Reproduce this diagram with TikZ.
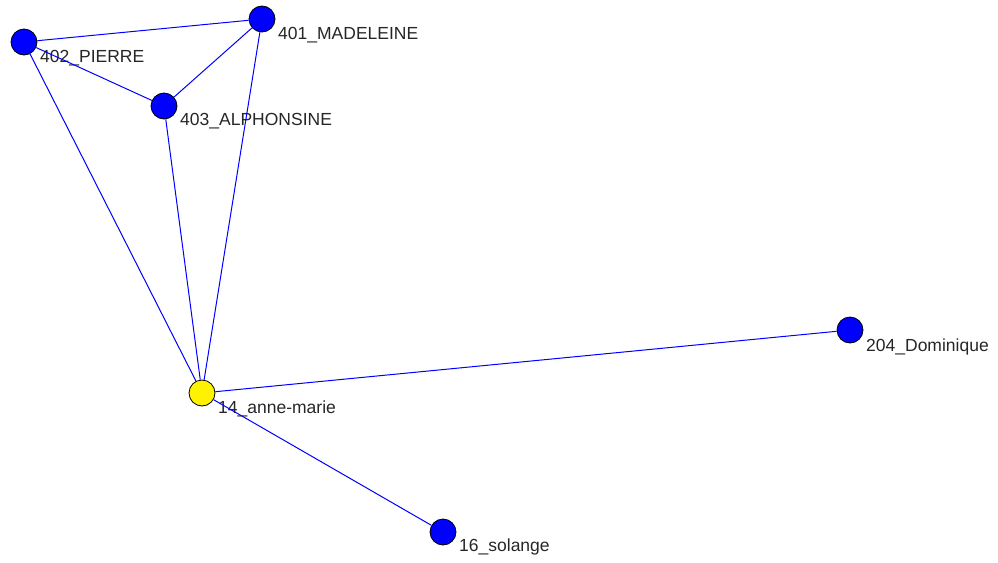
\documentclass[tikz,border=0pt]{standalone}
\usepackage{fontspec}
\setmainfont{Liberation Sans}
\begin{document}
\begin{tikzpicture}[x=1pt,y=-1pt,
    vertex/.style={circle,draw=black,line width=0.8pt,minimum size=26pt,inner sep=0pt},
    tag/.style={anchor=base west,inner sep=0pt,text=black!85,
                font=\fontsize{17.5}{20}\selectfont},
    tie/.style={blue,line width=1pt}]
    \useasboundingbox (0,0) rectangle (998,562);
    % actors
    \foreach \n/\x/\y/\dy/\c/\t in {
        p402/24/42/20/blue/402\_PIERRE,
        p401/262/19/20/blue/401\_MADELEINE,
        p403/164/106/19/blue/403\_ALPHONSINE,
        p14/202/393/20/yellow/14\_anne-marie,
        p204/850/330/21/blue/204\_Dominique,
        p16/443/532/19/blue/16\_solange}
    {
        \node[vertex,fill=\c] (\n) at (\x,\y) {};
        \node[tag] (\n-t) at ([xshift=16pt,yshift=-\dy pt]\n.center) {\t};
    }
    % ties
    \foreach \a/\b in {p402/p401,p402/p403,p401/p403,
                       p402/p14,p403/p14,p401/p14,
                       p14/p204,p14/p16}
        \draw[tie] (\a)--(\b);
\end{tikzpicture}
\end{document}
